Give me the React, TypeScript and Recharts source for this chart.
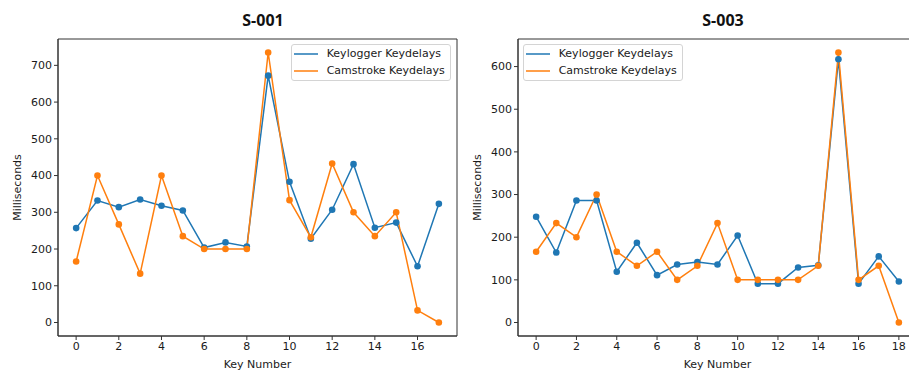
import React from "react";
import { Label, Legend, Line, LineChart, ReferenceArea, XAxis, YAxis } from "recharts";

// S-001
const s001Keys = [0, 1, 2, 3, 4, 5, 6, 7, 8, 9, 10, 11, 12, 13, 14, 15, 16, 17];
const s001Keylogger = [257, 332, 314, 335, 318, 305, 204, 218, 207, 672, 383, 228, 307, 431, 258, 272, 153, 323];
const s001Camstroke = [166, 400, 267, 133, 400, 235, 200, 200, 200, 735, 333, 232, 433, 300, 235, 300, 33, 0];
const s001XTicks = [0, 2, 4, 6, 8, 10, 12, 14, 16];
const s001YTicks = [0, 100, 200, 300, 400, 500, 600, 700];

// S-003
const s003Keys = [0, 1, 2, 3, 4, 5, 6, 7, 8, 9, 10, 11, 12, 13, 14, 15, 16, 17, 18];
const s003Keylogger = [248, 164, 286, 286, 119, 187, 111, 136, 142, 136, 204, 91, 91, 129, 134, 617, 91, 155, 96];
const s003Camstroke = [166, 233, 200, 300, 166, 133, 166, 100, 133, 233, 100, 100, 100, 100, 133, 633, 100, 133, 0];
const s003XTicks = [0, 2, 4, 6, 8, 10, 12, 14, 16, 18];
const s003YTicks = [0, 100, 200, 300, 400, 500, 600];

const seriesNames = ["Keylogger Keydelays", "Camstroke Keydelays"];

const BLUE = "#1f77b4";
const ORANGE = "#ff7f0e";
const FONT = "DejaVu Sans, sans-serif";
const SPINE = "#333";

// matplotlib style 5% margins
const pad = (lo: number, hi: number): [number, number] => {
  const m = (hi - lo) * 0.05;
  return [lo - m, hi + m];
};

const LegendBox = ({ payload }: any) => {
  const items = [...(payload || [])].sort(
    (a: any, b: any) => seriesNames.indexOf(a.value) - seriesNames.indexOf(b.value)
  );
  return (
    <div
      style={{
        width: 160,
        height: 37,
        boxSizing: "border-box",
        border: "1px solid #d4d4d4",
        borderRadius: 3,
        background: "rgba(255,255,255,0.85)",
        fontFamily: FONT,
        fontSize: 11,
        color: "#1a1a1a",
      }}
    >
      {items.map((p: any) => (
        <div key={p.value} style={{ display: "flex", alignItems: "center", height: 17.3 }}>
          <svg width={24} height={4} style={{ marginLeft: 2.3 }}>
            <line x1={0} y1={2} x2={24} y2={2} stroke={p.color} strokeWidth={1.5} />
          </svg>
          <span style={{ marginLeft: 8.4, whiteSpace: "nowrap" }}>{p.value}</span>
        </div>
      ))}
    </div>
  );
};

interface PanelProps {
  title: string;
  keys: number[];
  keylogger: number[];
  camstroke: number[];
  xTicks: number[];
  yTicks: number[];
  legendLeft: number;
  titleCenter: number;
}

function Panel({ title, keys, keylogger, camstroke, xTicks, yTicks, legendLeft, titleCenter }: PanelProps) {
  const data = keys.map((k, i) => ({ key: k, keylogger: keylogger[i], camstroke: camstroke[i] }));
  const xDomain = pad(keys[0], keys[keys.length - 1]);
  const allValues = [...keylogger, ...camstroke];
  const yDomain = pad(Math.min(...allValues), Math.max(...allValues));
  const tickStyle = { fill: "#1a1a1a", fontSize: 11, fontFamily: FONT };

  return (
    <div style={{ position: "relative", width: 460, height: 373 }}>
      <div
        style={{
          position: "absolute",
          left: titleCenter - 50,
          width: 100,
          top: 12,
          textAlign: "center",
          fontFamily: "Open Sans, sans-serif",
          fontWeight: 700,
          fontSize: 16,
          lineHeight: "16px",
          color: "#111",
        }}
      >
        {title}
      </div>
      <LineChart width={460} height={373} data={data} margin={{ top: 39, right: 3, bottom: 0, left: 0 }}>
        <XAxis
          dataKey="key"
          type="number"
          domain={xDomain}
          ticks={xTicks}
          allowDataOverflow
          height={37}
          tickSize={4}
          tick={tickStyle}
          axisLine={{ stroke: SPINE }}
          tickLine={{ stroke: SPINE }}
        >
          <Label
            value="Key Number"
            position="insideBottom"
            offset={5}
            style={{ fill: "#1a1a1a", fontSize: 11, fontFamily: FONT }}
          />
        </XAxis>
        <YAxis
          type="number"
          domain={yDomain}
          ticks={yTicks}
          allowDataOverflow
          width={58}
          tickSize={4}
          tick={tickStyle}
          axisLine={{ stroke: SPINE }}
          tickLine={{ stroke: SPINE }}
        >
          <Label
            value="Milliseconds"
            angle={-90}
            position="insideLeft"
            offset={17.5}
            style={{ textAnchor: "middle", fill: "#1a1a1a", fontSize: 11, fontFamily: FONT }}
          />
        </YAxis>
        {/* plot frame (top and right spines) */}
        <ReferenceArea
          x1={xDomain[0]}
          x2={xDomain[1]}
          y1={yDomain[0]}
          y2={yDomain[1]}
          fill="none"
          stroke={SPINE}
          strokeWidth={1}
          ifOverflow="visible"
        />
        <Legend
          layout="vertical"
          align="center"
          verticalAlign="middle"
          content={<LegendBox />}
          wrapperStyle={{ left: legendLeft, top: 44, width: 160 }}
        />
        <Line
          type="linear"
          dataKey="keylogger"
          name={seriesNames[0]}
          stroke={BLUE}
          strokeWidth={1.5}
          dot={{ r: 3.3, fill: BLUE, stroke: BLUE, strokeWidth: 0 }}
          activeDot={false}
          isAnimationActive={false}
        />
        <Line
          type="linear"
          dataKey="camstroke"
          name={seriesNames[1]}
          stroke={ORANGE}
          strokeWidth={1.5}
          dot={{ r: 3.3, fill: ORANGE, stroke: ORANGE, strokeWidth: 0 }}
          activeDot={false}
          isAnimationActive={false}
        />
      </LineChart>
    </div>
  );
}

export default function App() {
  return (
    <div
      style={{
        position: "absolute",
        left: 0,
        top: 0,
        width: 909,
        height: 373,
        overflow: "hidden",
        background: "#fff",
      }}
    >
      <div style={{ position: "absolute", left: 0, top: 0 }}>
        <Panel
          title="S-001"
          keys={s001Keys}
          keylogger={s001Keylogger}
          camstroke={s001Camstroke}
          xTicks={s001XTicks}
          yTicks={s001YTicks}
          legendLeft={291}
          titleCenter={263}
        />
      </div>
      <div style={{ position: "absolute", left: 460, top: 0 }}>
        <Panel
          title="S-003"
          keys={s003Keys}
          keylogger={s003Keylogger}
          camstroke={s003Camstroke}
          xTicks={s003XTicks}
          yTicks={s003YTicks}
          legendLeft={63}
          titleCenter={263}
        />
      </div>
    </div>
  );
}
